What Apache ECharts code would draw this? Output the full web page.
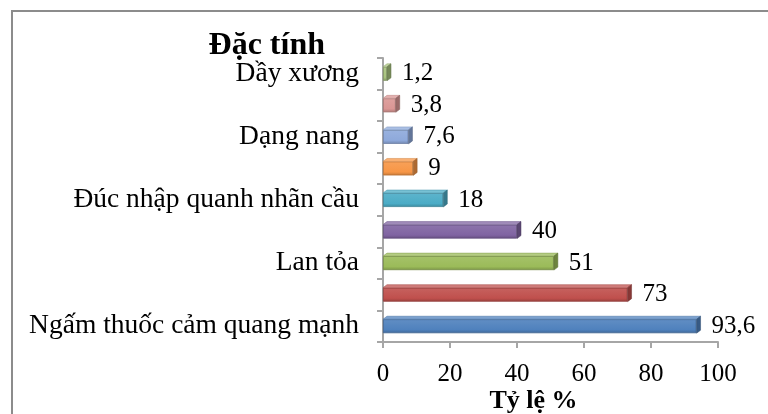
<!DOCTYPE html>
<html>
<head>
<meta charset="utf-8">
<script src="https://cdn.jsdelivr.net/npm/echarts@6/dist/echarts.min.js"></script>
<style>
  html, body { margin: 0; padding: 0; background: #fff; }
  #chart { width: 768px; height: 414px; }
</style>
</head>
<body>
<div id="chart"></div>
<script>
// Categories listed bottom to top; only every other one carries a label.
var categories = [
  'Ngấm thuốc cảm quang mạnh', '', 'Lan tỏa', '',
  'Đúc nhập quanh nhãn cầu', '', 'Dạng nang', '', 'Dầy xương'
];
var values = [93.6, 73, 51, 40, 18, 9, 7.6, 3.8, 1.2];
var barColors = [
  '#4F81BD', '#C0504D', '#9BBB59', '#8064A2', '#4BACC6',
  '#F79646', '#8EA9DB', '#DA9694', '#A9C47F'
];
var xTicks = [0, 20, 40, 60, 80, 100];

function shade(hex, f) {
  var n = parseInt(hex.slice(1), 16);
  var c = [(n >> 16) & 255, (n >> 8) & 255, n & 255].map(function (v) {
    return f <= 1 ? Math.round(v * f) : Math.round(v + (255 - v) * (f - 1));
  });
  return 'rgb(' + c.join(',') + ')';
}

var serif = '"Liberation Serif", "Times New Roman", serif';
var DEPTH_X = 4, DEPTH_Y = 3, BAR_H = 14;

// Depth faces (top and right end) of each bar, giving the bevelled 3D look.
function renderDepth(params, api) {
  var idx = params.dataIndex;
  var v = api.value(0);
  var c = api.value(1);
  var start = api.coord([0, c]);
  var end = api.coord([v, c]);
  var y0 = end[1] - BAR_H / 2, y1 = end[1] + BAR_H / 2;
  var x0 = start[0], x1 = end[0];
  var col = barColors[idx];
  return {
    type: 'group',
    children: [
      {
        type: 'polygon',
        shape: { points: [[x0, y0], [x0 + DEPTH_X, y0 - DEPTH_Y], [x1 + DEPTH_X, y0 - DEPTH_Y], [x1, y0]] },
        style: { fill: shade(col, 1.25), stroke: shade(col, 0.85), lineWidth: 0.5 }
      },
      {
        type: 'polygon',
        shape: { points: [[x1, y0], [x1 + DEPTH_X, y0 - DEPTH_Y], [x1 + DEPTH_X, y1 - DEPTH_Y], [x1, y1]] },
        style: { fill: shade(col, 0.7), stroke: shade(col, 0.6), lineWidth: 0.5 }
      }
    ]
  };
}

var chart = echarts.init(document.getElementById('chart'));

chart.setOption({
  animation: false,
  backgroundColor: '#fff',
  graphic: [{
    type: 'rect',
    shape: { x: 12, y: 11, width: 800, height: 500 },
    style: { fill: 'none', stroke: '#8c8c8c', lineWidth: 2 },
    silent: true
  }],
  grid: { left: 383, right: 50, top: 58, bottom: 72, outerBoundsMode: 'none', containLabel: false },
  xAxis: {
    type: 'value',
    min: xTicks[0],
    max: xTicks[xTicks.length - 1],
    interval: 20,
    name: 'Tỷ lệ %',
    nameLocation: 'middle',
    nameGap: 46,
    nameMoveOverlap: false,
    nameTextStyle: {
      fontFamily: serif, fontSize: 26, fontWeight: 'bold', color: '#000',
      padding: [0, 34, 0, 0]
    },
    axisLine: { show: true, lineStyle: { color: '#a6a6a6', width: 2 } },
    axisTick: { show: true, length: 6, lineStyle: { color: '#a6a6a6', width: 2 } },
    splitLine: { show: false },
    axisLabel: { fontFamily: serif, fontSize: 25, color: '#000', margin: 20 }
  },
  yAxis: {
    type: 'category',
    data: categories,
    name: 'Đặc tính',
    nameLocation: 'end',
    nameGap: -4,
    nameMoveOverlap: false,
    nameTextStyle: {
      fontFamily: serif, fontSize: 32, fontWeight: 'bold', color: '#000',
      align: 'right', padding: [0, 58, 0, 0]
    },
    axisLine: { show: true, lineStyle: { color: '#a6a6a6', width: 2 } },
    axisTick: { show: true, length: 6, lineStyle: { color: '#a6a6a6', width: 2 } },
    axisLabel: {
      fontFamily: serif, fontSize: 27.5, color: '#000', margin: 24, interval: 0,
      padding: [10, 0, 0, 0]
    }
  },
  series: [
    {
      type: 'bar',
      barWidth: BAR_H,
      z: 2,
      data: values.map(function (v, i) {
        return {
          value: v,
          itemStyle: {
            color: {
              type: 'linear', x: 0, y: 0, x2: 0, y2: 1,
              colorStops: [
                { offset: 0, color: shade(barColors[i], 1.1) },
                { offset: 0.75, color: barColors[i] },
                { offset: 1, color: shade(barColors[i], 0.8) }
              ]
            },
            borderColor: shade(barColors[i], 0.75),
            borderWidth: 0.8
          }
        };
      }),
      label: {
        show: true,
        position: 'right',
        distance: 15,
        fontFamily: serif,
        fontSize: 25,
        color: '#000',
        formatter: function (p) { return String(p.value).replace('.', ','); }
      }
    },
    {
      type: 'custom',
      z: 3,
      renderItem: renderDepth,
      data: values.map(function (v, i) { return [v, i]; }),
      encode: { x: 0, y: 1 },
      silent: true
    }
  ]
});
</script>
</body>
</html>
